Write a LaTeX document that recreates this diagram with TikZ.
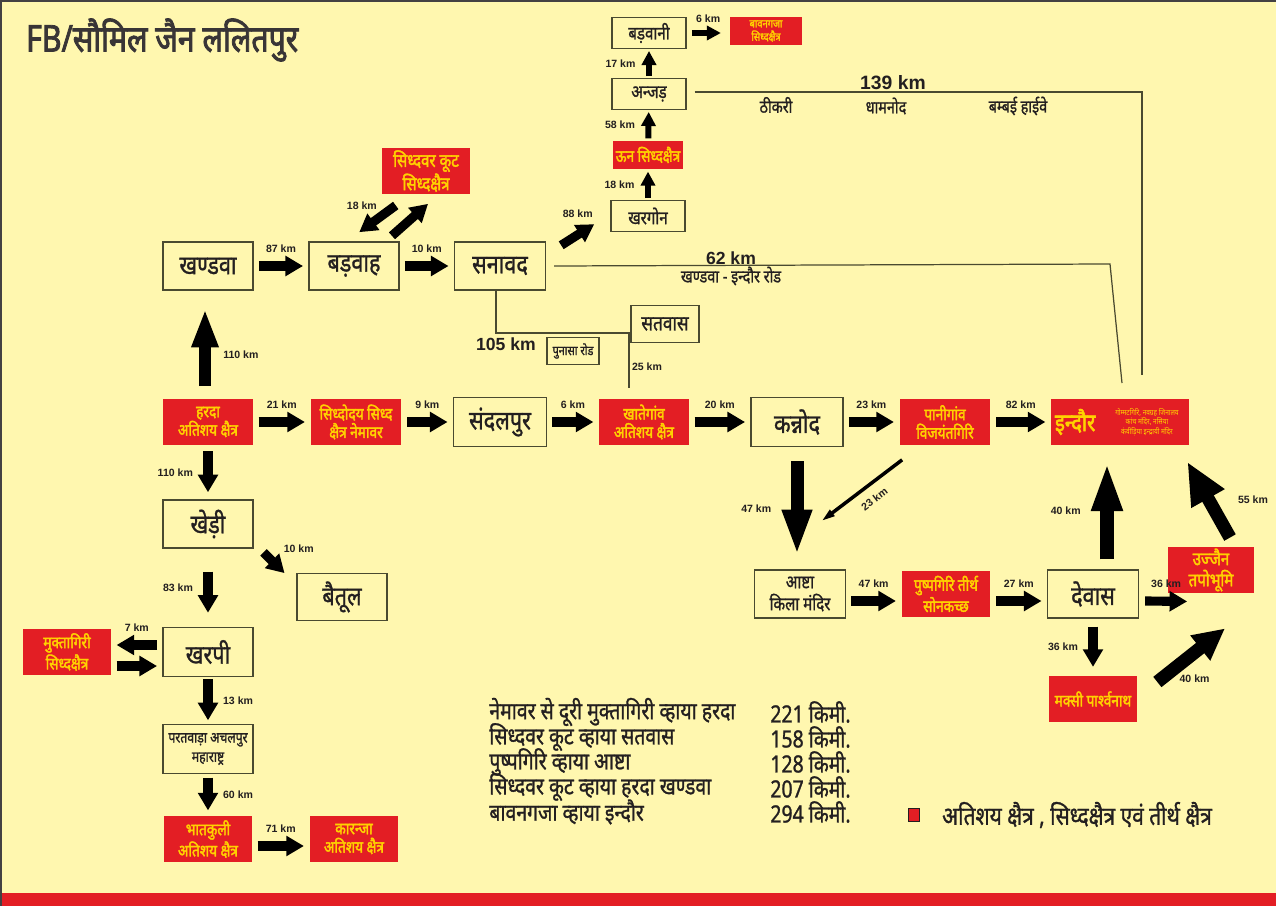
\documentclass[tikz,border=0pt]{standalone}
\usepackage{fontspec}
\usepackage{xcolor}
\usepackage{tikz}
\usetikzlibrary{arrows.meta}
\setmainfont{Noto Sans}[Script=Devanagari]
\newfontfamily\devfont[Script=Devanagari,FakeStretch=0.82,AutoFakeBold=2.2]{Noto Sans}
\newfontfamily\devmed[Script=Devanagari,FakeStretch=0.82,FakeBold=1.1]{Noto Sans}
\newfontfamily\latfont{Liberation Sans}
\definecolor{paper}{HTML}{FFF7AF}
\definecolor{tirthred}{HTML}{E31E24}
\definecolor{tirthgold}{HTML}{FFD200}
\definecolor{ink}{HTML}{231F20}
\definecolor{boxline}{HTML}{4A4A30}
\newcommand{\setfs}[2]{\fontsize{#1}{#2}\selectfont}

\begin{document}
\begin{tikzpicture}[
    x=0.02cm, y=-0.02cm,
    place/.style={draw=boxline, line width=0.8pt, align=center, inner sep=1pt, text=ink, font=\devmed\setfs{15}{16}},
    placesm/.style={place, font=\devmed\setfs{10.5}{12}},
    tirth/.style={fill=tirthred, align=center, inner sep=1pt, text=tirthgold, font=\devfont\bfseries\setfs{9.5}{10.5}},
    dist/.style={font=\latfont\bfseries\setfs{6}{7}, text=ink, inner sep=1pt},
    roadkm/.style={font=\latfont\bfseries\setfs{10}{11}, text=ink, inner sep=1pt},
    roadname/.style={font=\devmed\setfs{10}{11}, text=ink, inner sep=1pt},
    route/.style={anchor=west, inner sep=0pt, font=\devmed\setfs{13.5}{14}, text=ink},
    road/.style={draw=boxline, line width=0.7pt},
    arr/.style={-{Triangle[length=10pt,width=11pt]}, line width=5.2pt, shorten <=3pt, shorten >=3pt},
    arrsm/.style={-{Triangle[length=8pt,width=8pt]}, line width=3.4pt, shorten <=1pt, shorten >=1pt},
    arrbig/.style={-{Triangle[length=24pt,width=16pt]}, line width=7.5pt},
    arrthin/.style={-{Triangle[length=8pt,width=4pt]}, line width=2pt}
]
\useasboundingbox (0,0) rectangle (1276,906);
\fill[paper] (0,0) rectangle (1276,906);
\fill[tirthred] (0,893) rectangle (1276,906);
\draw[ink!85, line width=1.6pt] (1,906) -- (1,1) -- (1276,1);

% title
\node[anchor=west, font=\devfont\bfseries\setfs{21}{21}, text=ink!90] (title) at (20,40) {FB/सौमिल जैन ललितपुर};

% khandwa - barwah - sanawad
\node[place, minimum width=1.8cm, minimum height=0.96cm] (khandwa) at (208,266) {खण्डवा};
\node[place, minimum width=1.8cm, minimum height=0.96cm] (barwah) at (354,266) {बड़वाह};
\node[place, minimum width=1.82cm, minimum height=0.96cm] (sanawad) at (500,266) {सनावद};
\node[tirth, font=\devfont\bfseries\setfs{10.5}{12}, minimum width=1.76cm, minimum height=0.92cm] (siddhvar) at (426,171) {सिध्दवर कूट\\सिध्दक्षैत्र};
\draw[arr] (khandwa) -- node[dist, above=4pt]{87 km} (barwah);
\draw[arr] (barwah) -- node[dist, above=4pt]{10 km} (sanawad);
\draw[arr] ([shift={(-26,8)}]siddhvar.south) -- node[dist, pos=0.1, left=7pt]{18 km} ([shift={(1,-6)}]barwah.north);
\draw[arr] ([shift={(34,-2)}]barwah.north) -- ([shift={(6,6)}]siddhvar.south);

% khargone column
\node[placesm, minimum width=1.48cm, minimum height=0.62cm] (khargone) at (648,216) {खरगोन};
\node[tirth, minimum width=1.42cm, minimum height=0.58cm] (oon) at (648,155) {ऊन सिध्दक्षैत्र};
\node[placesm, minimum width=1.48cm, minimum height=0.62cm] (anjad) at (649,94) {अन्जड़};
\node[placesm, minimum width=1.48cm, minimum height=0.62cm] (barwani) at (649,33) {बड़वानी};
\node[tirth, font=\devfont\bfseries\setfs{6.5}{7.5}, minimum width=1.44cm, minimum height=0.58cm] (bawangaja) at (766,31) {बावनगजा\\सिध्दक्षैत्र};
\draw[arr, shorten <=0pt, shorten >=0pt] ([shift={(15,4)}]sanawad.north east) -- node[dist, above=6pt]{88 km} ([shift={(-16,-8)}]khargone.south west);
\draw[arrsm] (khargone) -- node[dist, left=5pt]{18 km} (oon);
\draw[arrsm] (oon) -- node[dist, left=5pt]{58 km} (anjad);
\draw[arrsm] (anjad) -- node[dist, left=5pt]{17 km} (barwani);
\draw[arrsm, shorten <=3pt, shorten >=5pt] (barwani.east) -- node[dist, above=3pt]{6 km} (barwani.east -| bawangaja.west);

% roads to indore
\coordinate (bombayturn) at (1142,92);
\coordinate (bombayend) at (1142,375);
\draw[road] ([shift={(8,-2)}]anjad.east) -- (bombayturn) -- (bombayend);
\node[roadkm, font=\latfont\bfseries\setfs{11}{12}] (km139) at (893,83) {139 km};
\node[roadname] (thikri) at (776,105) {ठीकरी};
\node[roadname] (dhamnod) at (886,106) {धामनोद};
\node[roadname] (bombay) at (1018,106) {बम्बई हाईवे};
\coordinate (khturn) at (1110,264);
\coordinate (khend) at (1122,383);
\draw[road] ([shift={(8,0)}]sanawad.east) -- (khturn) -- (khend);
\node[roadkm] (km62) at (731,258) {62 km};
\node[roadname] (khroad) at (731,276) {खण्डवा - इन्दौर रोड};

% satwas road
\node[place, font=\devmed\setfs{12}{13}, minimum width=1.36cm, minimum height=0.74cm] (satwas) at (665,324) {सतवास};
\node[place, font=\devmed\setfs{7.5}{8}, line width=0.6pt, minimum width=1.04cm, minimum height=0.54cm] (punasa) at (573,351) {पुनासा रोड};
\coordinate (satjn) at (629,333);
\coordinate (satend) at (629,388);
\draw[road] ([shift={(-4,0)}]sanawad.south) |- (satjn) -- (satend);
\node[roadkm] (km105) at (506,344) {105 km};
\node[dist] (km25) at (647,367) {25 km};

% main row
\node[tirth, minimum width=1.8cm, minimum height=0.94cm] (harda) at (208,422) {हरदा\\अतिशय क्षैत्र};
\node[tirth, minimum width=1.82cm, minimum height=0.94cm] (nemawar) at (356,422) {सिध्दोदय सिध्द\\क्षैत्र नेमावर};
\node[place, minimum width=1.86cm, minimum height=0.98cm] (sandalpur) at (500,422) {संदलपुर};
\node[tirth, minimum width=1.8cm, minimum height=0.94cm] (khategaon) at (644,422) {खातेगांव\\अतिशय क्षैत्र};
\node[place, minimum width=1.84cm, minimum height=0.98cm] (kannod) at (797,422) {कन्नोद};
\node[tirth, minimum width=1.82cm, minimum height=0.94cm] (panigaon) at (945,422) {पानीगांव\\विजयंतगिरि};
\node[tirth, minimum width=2.76cm, minimum height=0.94cm] (indore) at (1120,422) {};
\node[anchor=west, font=\devfont\bfseries\setfs{14}{14}, text=tirthgold, inner sep=0pt] (indorename) at ([shift={(4,0)}]indore.west) {इन्दौर};
\node[font=\devfont\setfs{4.5}{5.5}, text=tirthgold, align=center, inner sep=0pt] (indorenote) at (1147,422) {गोम्मटगिरि, नवग्रह जिनालय\\कांच मंदिर, नसिया\\कंवीड़िया इन्द्रायी मंदिर};
\draw[arr] (harda) -- node[dist, above=4pt]{21 km} (nemawar);
\draw[arr] (nemawar) -- node[dist, above=4pt]{9 km} (sandalpur);
\draw[arr] (sandalpur) -- node[dist, above=4pt]{6 km} (khategaon);
\draw[arr] (khategaon) -- node[dist, above=4pt]{20 km} (kannod);
\draw[arr] (kannod) -- node[dist, above=4pt]{23 km} (panigaon);
\draw[arr] (panigaon) -- node[dist, above=4pt]{82 km} (indore);
\draw[arrbig, -{Triangle[length=22pt,width=14pt]}, line width=6.8pt] ([shift={(-3,-12)}]harda.north) -- node[dist, pos=0.4, right=6pt]{110 km} ([shift={(-3,18)}]khandwa.south);

% left column
\node[place, minimum width=1.8cm, minimum height=0.96cm] (khedi) at (208,524) {खेड़ी};
\node[place, minimum width=1.8cm, minimum height=0.94cm] (betul) at (342,597) {बैतूल};
\node[place, minimum width=1.8cm, minimum height=0.98cm] (kharpi) at (208,652) {खरपी};
\node[tirth, minimum width=1.76cm, minimum height=0.92cm] (muktagiri) at (67,652) {मुक्तागिरी\\सिध्दक्षैत्र};
\node[place, font=\devmed\setfs{8.5}{11}, minimum width=1.8cm, minimum height=0.98cm] (paratwada) at (208,749) {परतवाड़ा अचलपुर\\महाराष्ट्र};
\node[tirth, minimum width=1.76cm, minimum height=0.92cm] (bhatkuli) at (208,839) {भातकुली\\अतिशय क्षैत्र};
\node[tirth, minimum width=1.78cm, minimum height=0.92cm] (karanja) at (354,839) {कारन्जा\\अतिशय क्षैत्र};
\draw[arr, shorten <=3pt, shorten >=4pt] (harda) -- node[dist, left=5pt]{110 km} (khedi);
\draw[arr] ([shift={(6,0)}]khedi.south east) -- node[dist, above right=2pt]{10 km} ([shift={(-8,4)}]betul.north west);
\draw[arr, shorten <=13pt, shorten >=8pt] (khedi) -- node[dist, left=5pt]{83 km} (kharpi);
\draw[arr] ([shift={(0,-7)}]kharpi.west) -- node[dist, above=4pt]{7 km} ([shift={(0,-7)}]muktagiri.east);
\draw[arr] ([shift={(0,14)}]muktagiri.east) -- ([shift={(0,14)}]kharpi.west);
\draw[arr, shorten <=1pt, shorten >=2pt] (kharpi) -- node[dist, right=5pt]{13 km} (paratwada);
\draw[arr, shorten <=2pt, shorten >=3pt] (paratwada) -- node[dist, right=5pt]{60 km} (bhatkuli);
\draw[arr] ([shift={(0,7)}]bhatkuli.east) -- node[dist, above=4pt]{71 km} ([shift={(0,7)}]karanja.west);

% kannod - ashta - dewas
\node[place, font=\devmed\setfs{10.5}{12.5}, minimum width=1.82cm, minimum height=0.96cm] (ashta) at (800,594) {आष्टा\\किला मंदिर};
\node[tirth, minimum width=1.78cm, minimum height=0.94cm] (pushpgiri) at (946,594) {पुष्पगिरि तीर्थ\\सोनकच्छ};
\node[place, minimum width=1.82cm, minimum height=0.96cm] (dewas) at (1093,594) {देवास};
\node[tirth, font=\devfont\bfseries\setfs{10.5}{12}, minimum width=1.74cm, minimum height=0.92cm] (ujjain) at (1211,570) {उज्जैन\\तपोभूमि};
\node[tirth, minimum width=1.76cm, minimum height=0.92cm] (maksi) at (1093,699) {मक्सी पार्श्वनाथ};
\draw[arrbig, -{Triangle[length=26pt,width=15.5pt]}, line width=7.4pt] ([shift={(0,14)}]kannod.south) -- node[dist, left=10pt]{47 km} ([shift={(-3,-14)}]ashta.north);
\draw[arrthin] ([shift={(3,14)}]panigaon.south west) -- node[dist, pos=0.45, sloped, below=4pt]{23 km} ([shift={(-25,-48)}]ashta.north east);
\draw[arr] ([shift={(0,7)}]ashta.east) -- node[dist, above=4pt]{47 km} ([shift={(0,7)}]pushpgiri.west);
\draw[arr] ([shift={(0,7)}]pushpgiri.east) -- node[dist, above=4pt]{27 km} ([shift={(0,7)}]dewas.west);
\draw[arrbig, -{Triangle[length=28pt,width=16pt]}, line width=8pt] ([shift={(14,-10)}]dewas.north) -- node[dist, left=10pt]{40 km} ([shift={(-13,16)}]indore.south);
\draw[arr, shorten <=0pt, shorten >=0pt] ([shift={(6,7)}]dewas.east) -- node[dist, above=4pt]{36 km} ([shift={(20,8)}]ujjain.south west);
\draw[arrbig, -{Triangle[length=24pt,width=20pt]}] ([shift={(19,-9)}]ujjain.north) -- node[dist, right=12pt]{55 km} ([shift={(-2,16)}]indore.south east);
\draw[arr, shorten <=4.5pt, shorten >=5pt] (dewas) -- node[dist, left=5pt]{36 km} (maksi);
\draw[arrbig, -{Triangle[length=18pt,width=17pt]}] ([shift={(20,-17)}]maksi.east) -- node[dist, pos=0.55, below=8pt]{40 km} ([shift={(14,35)}]ujjain.south);

% distances and legend
\node[route] (route1) at (489,712) {नेमावर से दूरी मुक्तागिरी व्हाया हरदा};
\node[route] (route2) at (489,737) {सिध्दवर कूट व्हाया सतवास};
\node[route] (route3) at (489,762) {पुष्पगिरि व्हाया आष्टा};
\node[route] (route4) at (489,787) {सिध्दवर कूट व्हाया हरदा खण्डवा};
\node[route] (route5) at (489,812) {बावनगजा व्हाया इन्दौर};
\node[route] (routekm1) at (770,712) {221 किमी.};
\node[route] (routekm2) at (770,737) {158 किमी.};
\node[route] (routekm3) at (770,762) {128 किमी.};
\node[route] (routekm4) at (770,787) {207 किमी.};
\node[route] (routekm5) at (770,812) {294 किमी.};
\node[fill=tirthred, draw=ink, line width=0.5pt, minimum width=0.22cm, minimum height=0.26cm, inner sep=0pt] (legendkey) at (914,815) {};
\node[anchor=west, font=\devmed\setfs{14.5}{16}, text=ink] (legendtext) at (936,815) {अतिशय क्षैत्र , सिध्दक्षैत्र एवं तीर्थ क्षैत्र};
\end{tikzpicture}
\end{document}
